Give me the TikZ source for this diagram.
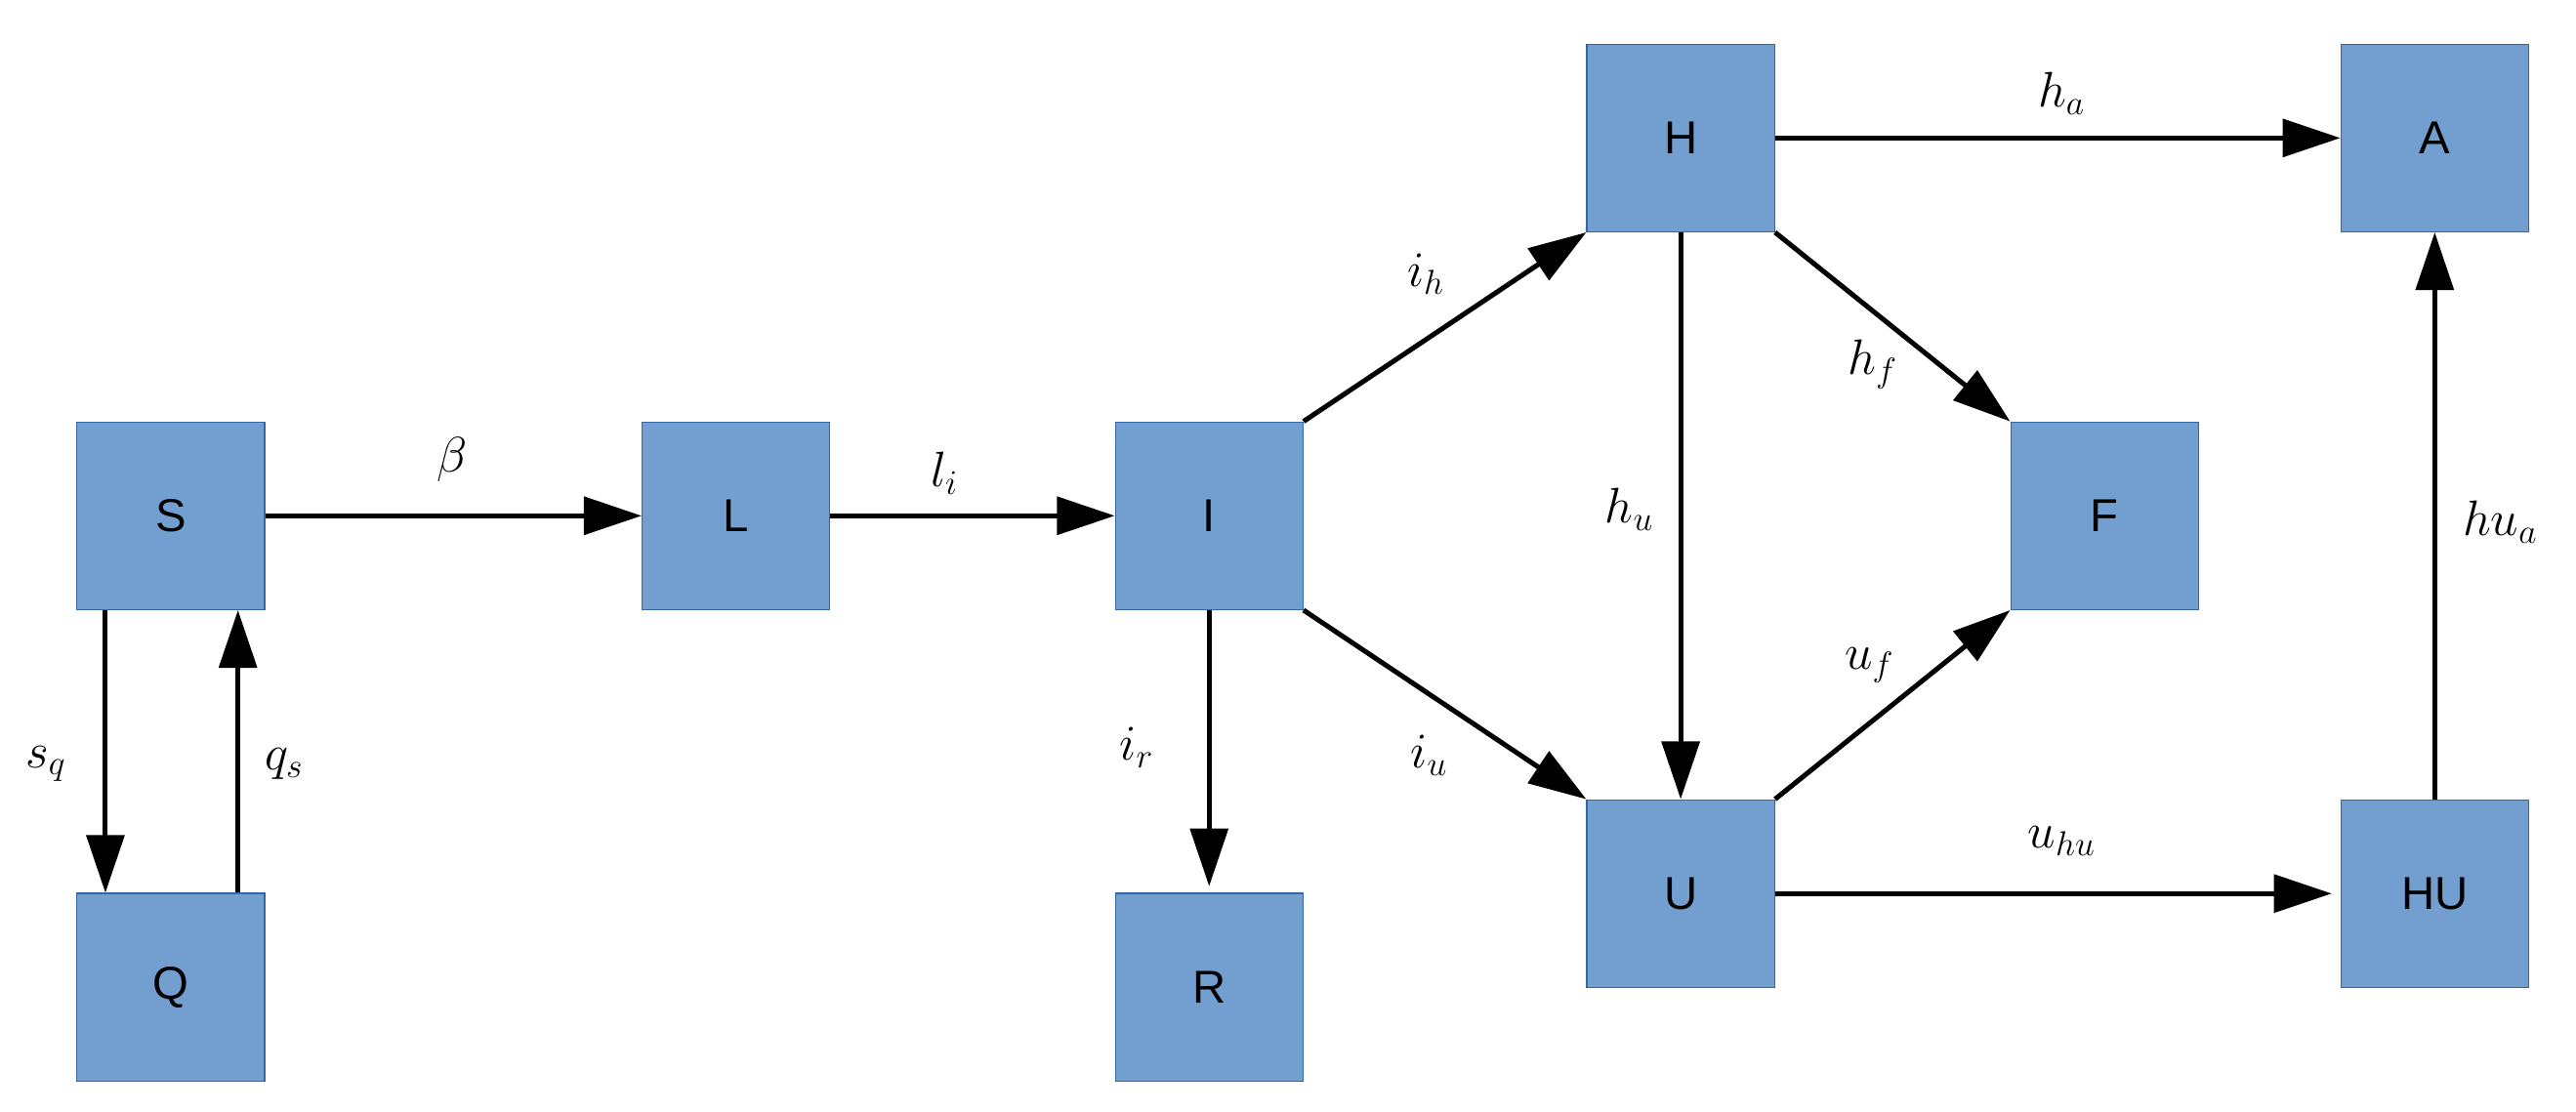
\documentclass[tikz,border=0pt]{standalone}
\usepackage{fontspec}
\setmainfont{Liberation Sans}
\usetikzlibrary{arrows.meta}
\definecolor{boxfill}{HTML}{729FCF}
\definecolor{boxdraw}{HTML}{3465A4}
\begin{document}
\begin{tikzpicture}[x=0.02cm,y=-0.02cm,
  box/.style={draw=boxdraw,line width=0.4pt,fill=boxfill,minimum size=65pt,inner sep=0pt,font=\fontsize{16}{18}\selectfont},
  arr/.style={line width=1.7pt,-{Triangle[length=20pt,width=13pt]}},
  lab/.style={font=\fontsize{18}{20}\selectfont}]
\useasboundingbox (0,0) rectangle (1568,677);
\node[box] (S) at (104,314) {S};
\node[box] (Q) at (104,601) {Q};
\node[box] (L) at (448,314) {L};
\node[box] (I) at (736,314) {I};
\node[box] (R) at (736,601) {R};
\node[box] (H) at (1023,84) {H};
\node[box] (U) at (1023,544) {U};
\node[box] (F) at (1281,314) {F};
\node[box] (A) at (1482,84) {A};
\node[box] (HU) at (1482,544) {HU};
\draw[arr] (S) -- (L);
\draw[arr] (L) -- (I);
\draw[arr] ([xshift=-40\pgflinewidth*0+ -40*0.567pt]S.south) -- ([xshift=-40*0.567pt]Q.north);
\draw[arr] ([xshift=41*0.567pt]Q.north) -- ([xshift=41*0.567pt]S.south);
\draw[arr] (I.south) -- ([yshift=4*0.567pt]R.north);
\draw[arr] (I.north east) -- (H.south west);
\draw[arr] (I.south east) -- (U.north west);
\draw[arr] (H) -- (U);
\draw[arr] (H.south east) -- (F.north west);
\draw[arr] (U.north east) -- (F.south west);
\draw[arr] (H) -- (A);
\draw[arr] (U) -- ([xshift=-3pt]HU.west);
\draw[arr] (HU) -- (A);
\node[lab] at (275,280) {$\beta$};
\node[lab] at (575,288) {$l_i$};
\node[lab] at (28,465) {$s_q$};
\node[lab] at (173,465) {$q_s$};
\node[lab] at (692,455) {$i_r$};
\node[lab] at (868,167) {$i_h$};
\node[lab] at (870,460) {$i_u$};
\node[lab] at (992,310) {$h_u$};
\node[lab] at (1140,222) {$h_f$};
\node[lab] at (1138,405) {$u_f$};
\node[lab] at (1255,57) {$h_a$};
\node[lab] at (1255,512) {$u_{hu}$};
\node[lab] at (1522,318) {$hu_a$};
\end{tikzpicture}
\end{document}
